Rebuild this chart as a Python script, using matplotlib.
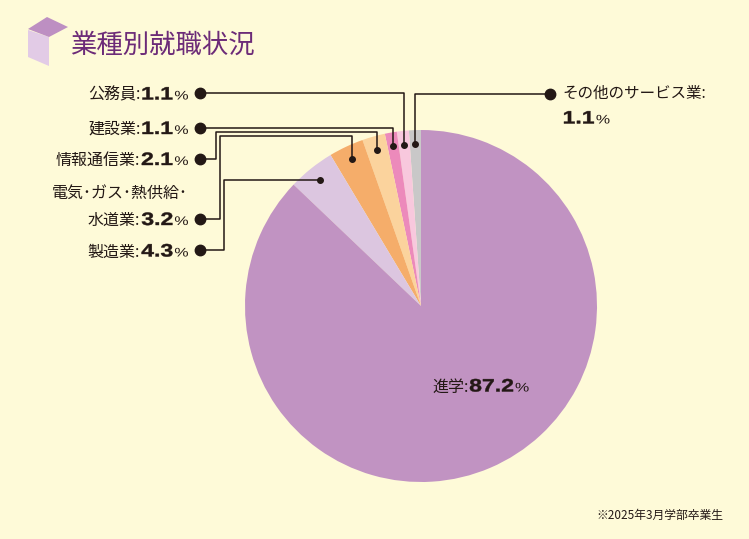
import matplotlib
matplotlib.use("Agg")
import matplotlib.pyplot as plt
from matplotlib.patches import Polygon, PathPatch
from matplotlib.textpath import TextPath
from matplotlib.font_manager import FontProperties
from matplotlib.transforms import Affine2D
import numpy as np

# data (counter-clockwise from 12 o'clock)
categories = ["その他のサービス業", "公務員", "建設業", "情報通信業",
              "電気・ガス・熱供給・水道業", "製造業", "進学"]
values = [1.1, 1.1, 1.1, 2.1, 3.2, 4.3, 87.2]
colors = ["#c9c8c8", "#f8c8dd", "#ec8abb", "#fbd39d",
          "#f5ad6a", "#dcc6e0", "#c193c2"]
value_labels = ["1.1", "1.1", "1.1", "2.1", "3.2", "4.3", "87.2"]

W, H = 749, 539
BG = "#fefad8"
INK = "#231815"
JP = ["Noto Sans CJK JP", "DejaVu Sans"]
NUM_B = FontProperties(family="Liberation Sans", weight="bold")
NUM_R = FontProperties(family="Liberation Sans")
SX = 1.28  # the numbers in the original are set wide


def Y(y):
    return H - y


fig = plt.figure(figsize=(W / 100, H / 100), dpi=100, facecolor=BG)
ax = fig.add_axes([0, 0, 1, 1])
ax.set_facecolor(BG)

cx, cy, R = 421, Y(306), 176
wedges, _ = ax.pie(values, colors=colors, startangle=90, counterclock=True,
                   center=(cx, cy), radius=R, frame=True,
                   wedgeprops=dict(linewidth=0))
ax.set_xlim(0, W)
ax.set_ylim(0, H)
ax.set_aspect("equal")
ax.axis("off")

renderer = fig.canvas.get_renderer()


def wide_text(x, base, s, prop, size, align, stroke=0.0):
    tp = TextPath((0, 0), s, size=size, prop=prop)
    ext = tp.get_extents()
    w = (ext.x1 - ext.x0) * SX
    left = x - w if align == "right" else x
    tr = Affine2D().translate(-ext.x0, 0).scale(SX, 1).translate(left, base)
    ax.add_patch(PathPatch(tp, fc=INK, ec=INK, lw=stroke,
                           transform=tr + ax.transData))
    return w


def jp_text(x, base, s, align, size=11.5):
    t = ax.text(x, base, s, ha=align, va="baseline", color=INK,
                family=JP, fontsize=size)
    return t.get_window_extent(renderer).width


def draw_label(x, y, head, value, align="right"):
    # y is the image-space visual centre of the line
    base = Y(y + 6.5)
    if align == "right":
        x -= wide_text(x, base, "%", NUM_R, 12.5, "right") + 2.5
        x -= wide_text(x, base, value, NUM_B, 18, "right", 0.3) + 1.5
        if head:
            jp_text(x, base, head, "right")
    else:
        if head:
            x += jp_text(x, base, head, "left") + 1.5
        x += wide_text(x, base, value, NUM_B, 18, "left", 0.3) + 2.5
        wide_text(x, base, "%", NUM_R, 12.5, "left")


def slice_dot(i):
    w = wedges[i]
    a = np.deg2rad((w.theta1 + w.theta2) / 2)
    r = R * 0.92
    return cx + r * np.cos(a), cy + r * np.sin(a)


lw = 1.1
# left-hand labels: (index, label row y, elbow x, elbow y)
left = [(1, 93, None, None), (2, 127.5, None, None), (3, 158.5, 216, 132),
        (4, 218.5, 220, 136), (5, 250, 224, None)]
heads = {1: "公務員:", 2: "建設業:", 3: "情報通信業:", 4: "水道業:", 5: "製造業:"}

for i, row, ex, ey in left:
    dx, dy = slice_dot(i)
    if ex is None:
        xs, ys = [200, dx, dx], [Y(row), Y(row), dy]
    else:
        ey_d = dy if ey is None else Y(ey)
        xs, ys = [200, ex, ex, dx, dx], [Y(row), Y(row), ey_d, ey_d, dy]
    ax.plot(xs, ys, color=INK, lw=lw, solid_capstyle="butt")
    ax.plot(200, Y(row), "o", color=INK, ms=7.5)
    ax.plot(dx, dy, "o", color=INK, ms=4)
    draw_label(188, row, heads[i], value_labels[i])

ax.text(188, Y(193), "電気･ガス･熱供給･", ha="right", va="center",
        family=JP, fontsize=11.5, color=INK)

# right-hand label (その他のサービス業)
dx, dy = slice_dot(0)
ax.plot([550, dx, dx], [Y(94), Y(94), dy], color=INK, lw=lw)
ax.plot(550, Y(94), "o", color=INK, ms=7.5)
ax.plot(dx, dy, "o", color=INK, ms=4)
ax.text(562, Y(93), "その他のサービス業:", ha="left", va="center",
        family=JP, fontsize=11.2, color=INK)
draw_label(564, 117, "", value_labels[0], align="left")

# inside label
draw_label(432, 385, "進学:", value_labels[6], align="left")

# title + icon
ax.add_patch(Polygon([(28, Y(30)), (49, Y(37)), (49, Y(66)), (28, Y(57))],
                     closed=True, fc="#e2cbe6", ec="none"))
ax.add_patch(Polygon([(28, Y(29)), (47, Y(17)), (68, Y(27)), (49, Y(37))],
                     closed=True, fc="#bd8fc2", ec="none"))
ax.text(70, Y(45), "業種別就職状況", ha="left", va="center",
        family=JP, fontsize=19, color="#6c2b78")

ax.text(723, Y(515), "※2025年3月学部卒業生", ha="right", va="center",
        family=JP, fontsize=8.5, color=INK)

fig.savefig("out.png", dpi=100, facecolor=BG)
